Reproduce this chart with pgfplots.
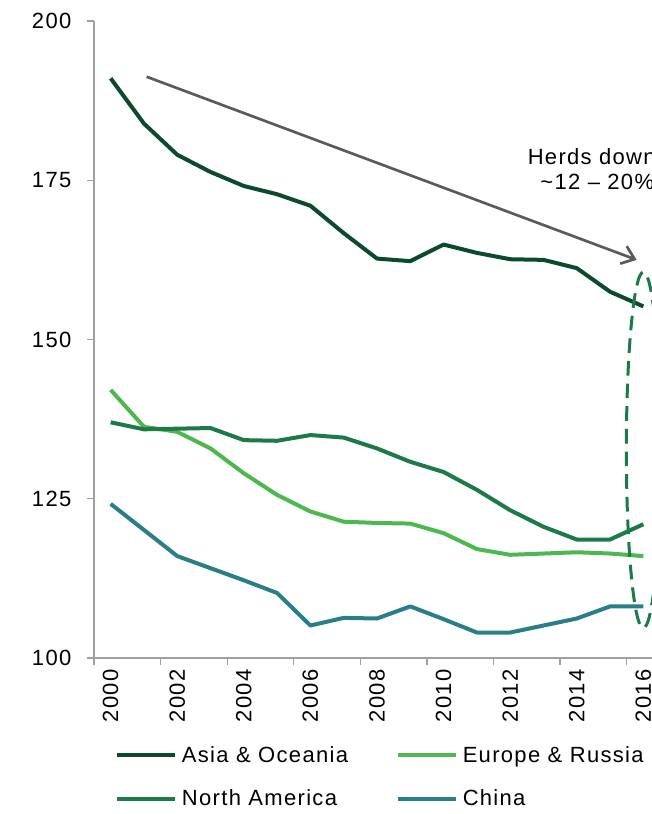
\documentclass[border=0pt]{standalone}
\usepackage{fontspec}
\setmainfont{Liberation Sans}[LetterSpace=6]
\usepackage{pgfplots}
\pgfplotsset{compat=1.18}
\usetikzlibrary{arrows.meta}
\definecolor{asia}{HTML}{0B4A2B}
\definecolor{namer}{HTML}{1B7A47}
\definecolor{europe}{HTML}{4DB84F}
\definecolor{china}{HTML}{2A7E88}
\definecolor{axisgray}{HTML}{A0A0A0}
\definecolor{arrowgray}{HTML}{5A5A5A}
\newcommand{\chartfont}{\fontsize{16.5}{19}\selectfont}

\pgfplotstableread{
year asia namer europe china
2000 191.0 137.0 142.1 124.2
2001 183.9 135.9 136.3 120.1
2002 179.0 136.0 135.5 116.0
2003 176.3 136.1 132.9 114.1
2004 174.1 134.2 129.0 112.2
2005 172.8 134.1 125.6 110.2
2006 171.0 135.0 123.0 105.1
2007 166.7 134.6 121.4 106.3
2008 162.7 132.9 121.2 106.2
2009 162.3 130.8 121.1 108.1
2010 164.9 129.2 119.6 106.1
2011 163.6 126.4 117.1 104.0
2012 162.6 123.2 116.2 104.0
2013 162.5 120.6 116.4 105.1
2014 161.2 118.6 116.6 106.2
2015 157.5 118.6 116.4 108.1
2016 155.2 121.0 116.0 108.1
}\datatable

\begin{document}
\begin{tikzpicture}
\begin{axis}[
  at={(0,0)}, anchor=south west,
  scale only axis, width=424.5pt, height=477.75pt,
  xmin=1999.5, xmax=2016.5, ymin=100, ymax=200,
  axis lines=left,
  axis line style={-, draw=axisgray, line width=1.2pt},
  ytick={100,125,150,175,200},
  xtick={1999.5,2001.5,...,2015.5},
  xticklabels={,,,,,,,,},
  extra x ticks={2000,2002,...,2016},
  extra x tick labels={2000,2002,2004,2006,2008,2010,2012,2014,2016},
  extra x tick style={major tick length=0pt, tick style={draw=none},
    tick label style={yshift=-5pt, rotate=90, anchor=east}},
  tick align=outside,
  major tick length=5.5pt,
  tick style={draw=axisgray, line width=1pt},
  /pgf/number format/assume math mode=true,
  x tick label style={font=\chartfont},
  y tick label style={font=\chartfont, xshift=-8pt},
  clip=false,
  legend columns=2,
  legend cell align=left,
  legend image code/.code={\draw[#1, line width=3pt] (0pt,0pt) -- (43.5pt,0pt);},
  legend style={draw=none, fill=none, inner sep=0pt,
    at={(axis description cs:0,0)}, anchor=north west,
    xshift=15.75pt, yshift=-65pt,
    font=\chartfont,
    nodes={inner sep=1pt},
    row sep=17pt,
    /tikz/every odd column/.append style={column sep=2.5pt},
    /tikz/every even column/.append style={column sep=35pt}},
  every axis plot/.append style={line width=3pt, line join=round},
]
\addplot[asia] table[x=year, y=asia] {\datatable};
\addlegendentry{Asia \& Oceania}
\addplot[europe] table[x=year, y=europe] {\datatable};
\addlegendentry{Europe \& Russia}
\addplot[namer] table[x=year, y=namer] {\datatable};
\addlegendentry{North America}
\addplot[china] table[x=year, y=china] {\datatable};
\addlegendentry{China}

\draw[arrowgray, line width=2pt, -{Straight Barb[length=9pt, width=14pt, line width=2pt]}]
  (axis cs:2001.08,191.25) -- (axis cs:2015.8,162.5);
\node[anchor=base west, inner sep=0pt, font=\chartfont] at (axis cs:2012.52,177.4) {Herds down};
\node[anchor=base west, inner sep=0pt, font=\chartfont] at (axis cs:2012.9,173.47) {\textasciitilde 12 -- 20\%};
\draw[namer, line width=2.25pt, dash pattern=on 11pt off 6pt]
  (axis cs:2016,132.65) ellipse [x radius=12.75pt, y radius=133.5pt];
\end{axis}
\pgfresetboundingbox
\useasboundingbox (-70.5pt,-117pt) rectangle (418.5pt,493.5pt);
\end{tikzpicture}
\end{document}
